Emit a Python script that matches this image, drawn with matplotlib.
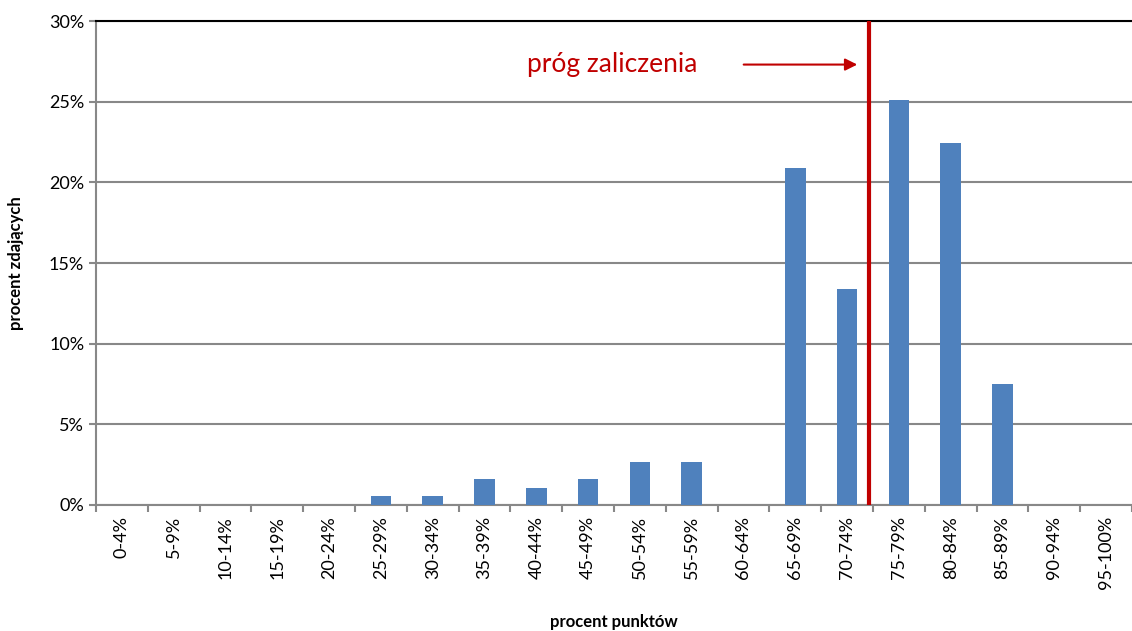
import matplotlib
matplotlib.use('Agg')
import matplotlib.pyplot as plt
import numpy as np

plt.rcParams['font.family'] = ['Lato', 'DejaVu Sans']

# Data.
categories = ['0-4%', '5-9%', '10-14%', '15-19%', '20-24%', '25-29%', '30-34%',
              '35-39%', '40-44%', '45-49%', '50-54%', '55-59%', '60-64%', '65-69%',
              '70-74%', '75-79%', '80-84%', '85-89%', '90-94%', '95-100%']
values = [0, 0, 0, 0, 0, 0.53, 0.53, 1.60, 1.07, 1.60, 2.67, 2.67, 0,
          20.86, 13.37, 25.13, 22.46, 7.49, 0, 0]
threshold_pos = 14.42  # position of the pass line, between 70-74% and 75-79%

fig = plt.figure(figsize=(11.32, 6.31), dpi=100)
ax = fig.add_axes([0.0848, 0.1997, 0.9152, 0.767])

x = np.arange(len(categories))
ax.bar(x, values, width=0.4, color='#4F81BD', zorder=3)

# Grid and axes.
ax.set_xlim(-0.5, len(categories) - 0.5)
ax.set_ylim(0, 30)
ax.set_yticks(range(0, 31, 5))
ax.set_yticklabels(['%d%%' % v for v in range(0, 31, 5)], fontsize=13)
ax.yaxis.grid(True, color='#888888', linewidth=1.5, zorder=0)
ax.set_xticks(x)
ax.set_xticklabels(categories, rotation=90, fontsize=13)
ax.set_xticks(np.arange(-0.5, len(categories), 1), minor=True)
ax.tick_params(axis='x', which='major', length=0, pad=8)
ax.tick_params(axis='x', which='minor', length=5, color='#888888', width=1.5)
ax.tick_params(axis='y', length=5, color='#888888', width=1.5)
ax.spines['right'].set_visible(False)
ax.spines['top'].set_color('black')
ax.spines['top'].set_linewidth(1.5)
ax.spines['left'].set_color('#888888')
ax.spines['left'].set_linewidth(1.5)
ax.spines['bottom'].set_color('#888888')
ax.spines['bottom'].set_linewidth(1.5)

# Pass threshold line and annotation.
ax.axvline(threshold_pos, color='#C00000', linewidth=3, zorder=4)
ax.annotate('', xy=(14.25, 27.3), xytext=(11.95, 27.3),
            arrowprops=dict(arrowstyle='-|>', color='#C00000', lw=1.5,
                            mutation_scale=18))
ax.text(7.82, 27.3, 'próg zaliczenia', color='#C00000', fontsize=19,
        va='center', ha='left')

ax.set_xlabel('procent punktów', fontsize=12, fontweight='bold', labelpad=18)
ax.set_ylabel('procent zdających', fontsize=12, fontweight='bold', labelpad=18)

plt.savefig('out.png', dpi=100)
